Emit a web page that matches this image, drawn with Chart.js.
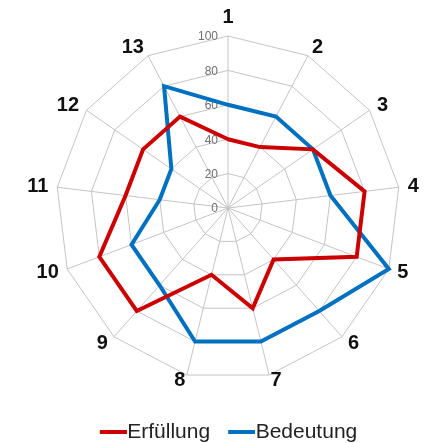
<!DOCTYPE html>
<html>
<head>
<meta charset="utf-8">
<script src="https://cdn.jsdelivr.net/npm/chart.js@4/dist/chart.umd.min.js"></script>
<style>
html,body{margin:0;padding:0;background:#fff;}
#wrap{width:425px;height:443px;position:relative;}
</style>
</head>
<body>
<div id="wrap"><canvas id="c" width="425" height="443"></canvas></div>
<script>
const categories = ['1','2','3','4','5','6','7','8','9','10','11','12','13'];
const erfuellung = [40, 40, 60, 80, 80, 40, 60, 40, 80, 80, 60, 60, 60];
const bedeutung  = [60, 60, 60, 60, 100, 80, 80, 80, 60, 60, 40, 40, 80];
const tickValues = [0, 20, 40, 60, 80, 100];
const tickLabels = ['0', '20', '40', '60', '80', '100'];

const FONT = '"Liberation Sans", Arial, sans-serif';

// Tick labels: right-aligned just left of the vertical axis (spreadsheet style)
const tickPlugin = {
  id: 'tickPlugin',
  beforeDatasetsDraw(chart) {
    const r = chart.scales.r;
    const ctx = chart.ctx;
    ctx.save();
    ctx.font = '12px ' + FONT;
    ctx.fillStyle = '#6e6e6e';
    ctx.textAlign = 'right';
    ctx.textBaseline = 'middle';
    tickValues.forEach((v, i) => {
      const d = r.getDistanceFromCenterForValue(v);
      ctx.fillText(tickLabels[i], r.xCenter - 10, r.yCenter - d + 1);
    });
    ctx.restore();
  }
};

// Category labels placed beside each spoke end (spreadsheet style)
const pointLabelPlugin = {
  id: 'pointLabelPlugin',
  afterDatasetsDraw(chart) {
    const r = chart.scales.r;
    const ctx = chart.ctx;
    ctx.save();
    ctx.font = 'bold 20px ' + FONT;
    ctx.fillStyle = '#111';
    ctx.textBaseline = 'middle';
    chart.data.labels.forEach((lab, i) => {
      const end = r.getPointPosition(i, r.drawingArea);
      const dx = (end.x - r.xCenter) / r.drawingArea;
      const dy = (end.y - r.yCenter) / r.drawingArea;
      const pad = dy > 0.9 ? 6 : 9;
      const p = r.getPointPosition(i, r.drawingArea + pad);
      let y = p.y;
      if (Math.abs(dx) < 0.05) {
        ctx.textAlign = 'center';
        if (dy < 0) y -= 10;
      } else {
        ctx.textAlign = dx > 0 ? 'left' : 'right';
      }
      ctx.fillText(lab, p.x, y);
    });
    ctx.restore();
  }
};

function legendLine(color) {
  const c = document.createElement('canvas');
  c.width = 37; c.height = 6;
  const g = c.getContext('2d');
  g.fillStyle = color;
  g.fillRect(10, 1, 27, 4);
  return c;
}

new Chart(document.getElementById('c'), {
  type: 'radar',
  data: {
    labels: categories,
    datasets: [
      { label: 'Erfüllung', data: erfuellung, borderColor: '#cc0000', backgroundColor: '#cc0000', borderWidth: 4, pointRadius: 0, pointHoverRadius: 0, fill: false, tension: 0 },
      { label: 'Bedeutung', data: bedeutung, borderColor: '#0070c0', backgroundColor: '#0070c0', borderWidth: 4, pointRadius: 0, pointHoverRadius: 0, fill: false, tension: 0 }
    ]
  },
  options: {
    responsive: false,
    animation: false,
    devicePixelRatio: 1,
    layout: { padding: { top: 13, left: 56, right: 24, bottom: -9.5 } },
    plugins: {
      tooltip: { enabled: false },
      legend: {
        position: 'bottom',
        labels: {
          usePointStyle: true,
          pointStyleWidth: 17,
          boxHeight: 4,
          padding: 18,
          color: '#222',
          font: { size: 21, family: FONT },
          generateLabels(chart) {
            return chart.data.datasets.map((ds, i) => ({
              text: ds.label, fillStyle: ds.borderColor, strokeStyle: ds.borderColor,
              lineWidth: 0, hidden: false, datasetIndex: i, fontColor: '#222',
              pointStyle: legendLine(ds.borderColor)
            }));
          }
        }
      }
    },
    scales: {
      r: {
        min: 0, max: 100,
        ticks: { stepSize: 20, display: false },
        grid: { color: '#c4c4c4', lineWidth: 1 },
        angleLines: { color: '#c4c4c4', lineWidth: 1 },
        pointLabels: { display: false }
      }
    }
  },
  plugins: [tickPlugin, pointLabelPlugin]
});
</script>
</body>
</html>
